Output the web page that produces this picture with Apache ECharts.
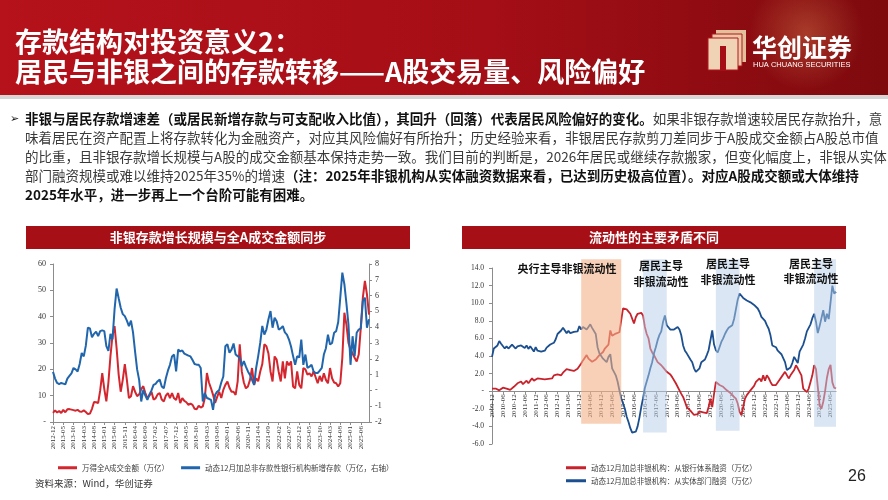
<!DOCTYPE html>
<html><head><meta charset="utf-8">
<script src="https://cdn.jsdelivr.net/npm/echarts@6/dist/echarts.min.js"></script>
<style>html,body{margin:0;padding:0;background:#fff}#c{width:888px;height:500px}</style>
</head><body><div id="c"></div>
<script>
// ---------- DATA ----------
function months(y, m, n) {
  const out = [];
  for (let i = 0; i < n; i++) {
    const t = y * 12 + (m - 1) + i;
    out.push(Math.floor(t / 12) + '-' + String(t % 12 + 1).padStart(2, '0'));
  }
  return out;
}
const leftCats = months(2012, 12, 155);   // 2012-12 .. 2025-10
const rightCats = months(2009, 12, 190);  // 2009-12 .. 2025-09

const leftRedName = '万得全A成交金额（万亿）';
const leftBlueName = '动态12月加总非存款性银行机构新增存款（万亿，右轴）';
const rightRedName = '动态12月加总非银机构：从银行体系融资（万亿）';
const rightBlueName = '动态12月加总非银机构：从实体部门融资（万亿）';

const leftRed = [
  3.5, 4.4, 3.6, 4.2, 3.4, 4.6, 3.7, 4.8, 4.9, 4.7,
  4.5, 4.3, 4.6, 4.0, 3.9, 4.4, 3.8, 3.0, 3.2, 5.0,
  7.6, 7.5, 7.2, 12.0, 18.6, 12.5, 7.8, 15.0, 25.0, 33.0,
  36.4, 28.0, 18.0, 11.5, 16.0, 22.0, 16.0, 9.1, 9.8, 13.6,
  11.5, 9.8, 10.5, 12.5, 13.6, 11.0, 9.1, 10.0, 11.5, 8.5,
  9.0, 10.5, 11.0, 8.5, 7.8, 10.0, 11.0, 9.1, 11.0, 9.0,
  8.4, 11.0, 7.2, 9.1, 8.0, 7.5, 6.5, 7.0, 6.5, 5.0,
  4.8, 6.2, 5.5, 5.9, 9.1, 18.6, 15.0, 12.8, 10.3, 7.2,
  9.5, 11.5, 9.1, 12.2, 14.1, 15.4, 13.0, 11.5, 11.5, 10.3,
  15.4, 29.5, 19.2, 15.0, 12.8, 13.5, 16.0, 20.5, 14.1, 16.6,
  15.5, 19.2, 22.0, 29.5, 28.8, 26.0, 19.2, 15.4, 24.9, 23.7,
  19.0, 15.4, 23.0, 16.6, 23.0, 21.5, 23.0, 13.5, 12.8, 19.2,
  14.1, 12.8, 20.5, 20.0, 18.0, 18.5, 17.3, 19.2, 17.0, 14.7,
  17.5, 15.4, 18.5, 16.0, 14.7, 20.5, 16.6, 15.0, 14.7, 13.5,
  14.7, 24.4, 41.5, 37.0, 30.0, 27.5, 26.0, 24.4, 23.0, 25.6,
  35.8, 47.2, 53.6, 48.5, 40.8
];
const leftBlue = [
  1.17, 0.75, 0.47, 0.40, 0.47, 0.43, 0.38, 0.75, 0.92, 1.08,
  1.42, 1.33, 1.20, 1.67, 2.37, 2.15, 2.83, 3.97, 3.92, 3.37,
  3.58, 3.72, 3.43, 3.75, 3.80, 3.75, 2.80, 2.50, 3.58, 3.22,
  5.13, 6.45, 5.83, 5.23, 4.83, 4.70, 4.42, 4.07, 4.42, 3.67,
  2.45, 1.33, 0.65, -0.70, 0.03, -0.33, -0.60, -0.25, 0.00, 0.35,
  0.42, 0.58, 0.68, 0.25, 0.13, 0.77, 1.25, 1.62, 2.15, 2.27,
  1.20, 2.58, 2.47, 2.53, 2.33, 2.27, 2.20, 2.15, 1.92, 1.67,
  1.63, 1.62, 1.42, -0.70, -0.17, -0.48, -0.53, -0.60, -1.23, -0.28,
  -0.08, 0.03, 0.50, 0.88, 2.80, 2.92, 2.38, 2.58, 2.97, 2.27,
  2.17, 2.07, 1.53, 1.85, 1.50, 1.20, 0.98, 0.67, 0.35, 1.42,
  2.17, 3.02, 4.08, 3.53, 3.85, 4.50, 5.02, 3.97, 4.60, 4.38,
  3.85, 3.92, 4.07, 3.67, 3.53, 3.22, 2.78, 2.17, 1.62, 2.17,
  2.08, 3.22, 1.62, 2.27, 1.42, 1.50, 1.62, 1.20, 1.10, 1.10,
  1.25, 1.42, 2.27, 2.67, 3.53, 2.90, 3.00, 3.65, 3.75, 4.33,
  5.87, 7.45, 6.72, 5.50, 4.17, 1.62, 3.43, 2.17, 3.65, 3.85,
  3.92, 5.65, 5.87, 3.97, 4.50
];
const rightRed = [
  0.3, 0.2, 0.3, 0.2, 0.1, 0.3, 0.4, 0.3, 0.3, 0.2,
  0.15, 0.3, 0.5, 0.7, 0.9, 0.7, 1.1, 0.8, 1.0, 1.2,
  0.9, 1.2, 1.45, 1.2, 1.4, 1.45, 1.35, 1.4, 1.35, 1.35,
  1.2, 1.4, 1.6, 1.45, 1.8, 1.7, 1.9, 2.0, 1.8, 2.1,
  2.25, 2.5, 2.3, 2.4, 2.55, 2.3, 2.4, 2.55, 2.7, 3.15,
  3.5, 3.8, 4.1, 3.7, 3.5, 3.35, 3.5, 3.6, 3.5, 4.1,
  4.3, 4.45, 4.85, 5.0, 5.3, 6.9, 6.3, 6.35, 6.55, 6.5,
  6.7, 8.05, 9.4, 9.5, 9.3, 9.2, 8.8, 8.6, 7.7, 8.4,
  8.8, 9.0, 8.9, 8.6, 7.3, 6.5, 6.0, 4.85, 4.4, 4.1,
  3.7, 3.3, 3.1, 2.95, 2.7, 2.5, 2.2, 2.0, 1.9, 1.6,
  1.25, 0.9, 0.7, 0.1, -0.3, -0.65, -1.2, -1.8, -1.95, -2.2,
  -2.35, -2.7, -2.5, -2.6, -2.3, -2.5, -2.4, -2.2, -2.5, -1.8,
  -0.85, -1.8, -0.3, 1.05, 0.9, 0.7, 0.5, 0.5, 0.3, 0.1,
  -0.1, -0.2, -0.45, -0.5, -0.85, -1.4, -2.35, -2.7, -1.8, -0.85,
  -0.45, -0.25, 0.1, 0.3, 0.6, 1.05, 0.9, 1.45, 1.1, 1.8,
  1.2, 1.8, 1.5, 1.05, 0.7, 0.6, 0.7, 0.9, 1.3, 1.6,
  1.8, 2.2, 2.0, 1.45, 1.8, 1.7, 2.4, 2.95, 2.6, 2.7,
  1.8, 0.3, 0.1, -0.1, 0.3, 1.05, 1.8, 2.95, 2.5, 0.5,
  -1.6, -2.0, -1.2, 0.0, 1.5, 2.5, 3.0, 1.0, 0.4, 0.3
];
const rightBlue = [
  3.9, 4.85, 4.7, 5.2, 5.7, 5.4, 5.2, 4.85, 5.1, 4.85,
  5.0, 5.3, 5.4, 4.85, 5.1, 5.0, 5.2, 5.3, 4.9, 5.2,
  4.8, 5.1, 5.0, 4.5, 5.0, 4.6, 4.45, 4.5, 4.45, 4.6,
  4.95, 5.1, 5.3, 5.2, 5.5, 5.9, 6.5, 6.5, 6.9, 7.2,
  7.0, 6.6, 6.85, 6.6, 6.7, 6.75, 6.75, 6.8, 7.4, 7.0,
  7.3, 7.2, 7.0, 7.3, 7.6, 7.2, 7.0, 6.5, 5.0, 4.3,
  4.0, 3.7, 3.7, 3.3, 3.9, 4.2, 2.6, 2.2, 1.8, 1.1,
  0.1, -0.8, -1.4, -2.0, -2.9, -3.5, -4.2, -4.7, -4.9, -4.6,
  -4.0, -3.0, -1.8, -0.8, 0.4, 1.1, 1.8, 2.6, 3.3, 4.3,
  5.0, 5.8, 6.4, 6.8, 7.9, 8.6, 7.5, 7.3, 7.0, 7.2,
  7.0, 7.1, 7.3, 7.0, 6.35, 5.2, 4.6, 4.3, 4.1, 3.6,
  3.3, 2.6, 2.2, 2.4, 2.6, 3.3, 3.5, 3.6, 4.1, 4.65,
  4.8, 6.9, 5.3, 4.65, 4.4, 5.0, 5.6, 6.0, 6.5, 6.9,
  7.2, 7.3, 7.5, 8.2, 9.3, 10.4, 11.1, 10.9, 10.6, 10.7,
  10.3, 10.4, 10.1, 10.0, 9.8, 9.6, 9.4, 9.0, 8.45, 8.25,
  8.0, 7.5, 7.1, 6.35, 5.2, 5.4, 5.0, 4.6, 4.4, 4.2,
  4.0, 3.3, 2.4, 2.3, 2.7, 3.2, 3.9, 4.0, 3.2, 4.5,
  4.9, 5.3, 6.0, 6.8, 7.2, 7.6, 8.3, 8.8, 7.9, 6.6,
  7.4, 8.3, 9.2, 7.9, 8.8, 8.2, 8.0, 12.0, 11.1, 11.3
];

// shaded regimes on the right chart
const bandStarts = ['2014-01', '2016-11', '2020-03', '2024-09'];
const bandEnds   = ['2015-11', '2017-12', '2021-04', '2025-09'];
const bandLows   = [-3.7, -4.7, -4.5, -4.05];
const bandTop = 15;

const leftTicksLeft = [0, 10, 20, 30, 40, 50, 60];
const leftTicksRight = [-2, -1, 0, 1, 2, 3, 4, 5, 6, 7, 8];
const rightTicks = [-6, -4, -2, 0, 2, 4, 6, 8, 10, 12, 14];

// ---------- STYLE / LAYOUT ----------
const RED_L = '#D3262E', BLUE_L = '#2166AC';
const RED_R = '#C8232C', BLUE_R = '#1B4F8F';
const serif = 'Liberation Serif';
const cjk = 'Noto Sans CJK SC';
const ORANGE_BAND = 'rgba(242,177,135,0.6)';
const BLUE_BAND = 'rgba(181,205,231,0.5)';

const bandColors = [ORANGE_BAND, BLUE_BAND, BLUE_BAND, BLUE_BAND];
const bandData = bandStarts.map((s, i) => [
  { xAxis: s, yAxis: bandLows[i], itemStyle: { color: bandColors[i], opacity: 1 } },
  { xAxis: bandEnds[i], yAxis: bandTop }
]);

// right chart: pixel geometry of the plot (top at 14, bottom at -6)
const RG = { left: 492, top: 268, width: 344, height: 176 };
const rUnit = RG.height / (rightTicks[rightTicks.length - 1] - rightTicks[0]);
const zeroOffset = -(0 - rightTicks[0]) * rUnit; // lift the x axis to value 0

const axisGray = '#8c8c8c';
const fs = 13.5;
const rich = {
  b: { fontFamily: cjk, fontSize: fs, fontWeight: 'bold', fill: '#111' },
  n: { fontFamily: cjk, fontSize: fs, fontWeight: 'normal', fill: '#3a3a3a' }
};
const paraLines = [
  '{b|非银与居民存款增速差（或居民新增存款与可支配收入比值），其回升（回落）代表居民风险偏好的变化。}{n|如果非银存款增速较居民存款抬升，意}',
  '{n|味着居民在资产配置上将存款转化为金融资产，对应其风险偏好有所抬升；历史经验来看，非银居民存款剪刀差同步于A股成交金额占A股总市值}',
  '{n|的比重，且非银存款增长规模与A股的成交金额基本保持走势一致。我们目前的判断是，2026年居民或继续存款搬家，但变化幅度上，非银从实体}',
  '{n|部门融资规模或难以维持2025年35%的增速}{b|（注：2025年非银机构从实体融资数据来看，已达到历史极高位置）。对应A股成交额或大体维持}',
  '{b|2025年水平，进一步再上一个台阶可能有困难。}'
];

function label(x, y, t) {
  return { type: 'text', x: x, y: y, z: 20, style: { text: t, fill: '#111', fontFamily: cjk, fontWeight: 'bold', fontSize: 11, align: 'center', verticalAlign: 'middle' } };
}

const graphics = [
  { type: 'rect', shape: { x: 0, y: 0, width: 888, height: 95 }, silent: true,
    style: { fill: new echarts.graphic.LinearGradient(0, 0, 1, 0, [
      { offset: 0, color: '#B5121B' }, { offset: 0.55, color: '#A50E16' }, { offset: 1, color: '#7E0A0E' }]) } },
  { type: 'rect', shape: { x: 560, y: 0, width: 328, height: 95 }, silent: true,
    style: { fill: new echarts.graphic.RadialGradient(0.75, 0.35, 0.6, [
      { offset: 0, color: 'rgba(230,150,90,0.35)' }, { offset: 1, color: 'rgba(230,150,90,0)' }]) } },
  { type: 'rect', shape: { x: 0, y: 95, width: 888, height: 4 }, style: { fill: '#D6D6D6' }, silent: true },
  { type: 'text', x: 15, y: 42, style: { text: '存款结构对投资意义2：', fill: '#fff', fontFamily: cjk, fontWeight: 'bold', fontSize: 27, verticalAlign: 'middle' } },
  { type: 'text', x: 15, y: 72, style: { text: '居民与非银之间的存款转移——A股交易量、风险偏好', fill: '#fff', fontFamily: cjk, fontWeight: 'bold', fontSize: 27, verticalAlign: 'middle' } },
  // logo icon
  { type: 'rect', shape: { x: 716, y: 30, width: 30, height: 32 }, style: { fill: '#E3C09C' } },
  { type: 'rect', shape: { x: 712, y: 34, width: 30, height: 32 }, style: { fill: '#E8C8A6', stroke: '#B8141C', lineWidth: 1 } },
  { type: 'rect', shape: { x: 708, y: 38, width: 30, height: 32 }, style: { fill: '#EFD3B4', stroke: '#B8141C', lineWidth: 1 } },
  { type: 'rect', shape: { x: 720, y: 46, width: 6, height: 24 }, style: { fill: '#A50E16' } },
  { type: 'text', x: 752, y: 47, style: { text: '华创证券', fill: '#fff', fontFamily: cjk, fontWeight: 'bold', fontSize: 25, verticalAlign: 'middle' } },
  { type: 'text', x: 753, y: 65, style: { text: 'HUA CHUANG SECURITIES', fill: '#fff', fontFamily: 'Liberation Sans', fontSize: 7.5, verticalAlign: 'middle' } },
  // bullet + paragraph
  { type: 'text', x: 10, y: 119, style: { text: '➢', fill: '#111', fontFamily: 'DejaVu Sans', fontSize: 11, verticalAlign: 'middle' } },
  ...paraLines.map((t, i) => ({ type: 'text', x: 25, y: 119 + i * 19, style: { text: t, rich: rich, verticalAlign: 'middle' } })),
  // chart banners
  { type: 'rect', shape: { x: 26, y: 226, width: 384, height: 23 }, style: { fill: '#A50F15' } },
  { type: 'text', x: 218, y: 237.5, style: { text: '非银存款增长规模与全A成交金额同步', fill: '#fff', fontFamily: cjk, fontWeight: 'bold', fontSize: 13, align: 'center', verticalAlign: 'middle' } },
  { type: 'rect', shape: { x: 462, y: 226, width: 384, height: 23 }, style: { fill: '#A50F15' } },
  { type: 'text', x: 654, y: 237.5, style: { text: '流动性的主要矛盾不同', fill: '#fff', fontFamily: cjk, fontWeight: 'bold', fontSize: 13, align: 'center', verticalAlign: 'middle' } },
  // regime annotations
  label(567, 269, '央行主导非银流动性'),
  label(661, 266, '居民主导'), label(661, 282, '非银流动性'),
  label(728, 264, '居民主导'), label(728, 280, '非银流动性'),
  label(811, 264, '居民主导'), label(811, 279, '非银流动性'),
  // footer
  { type: 'text', x: 35, y: 483, style: { text: '资料来源：Wind，华创证券', fill: '#333', fontFamily: cjk, fontSize: 9.5, verticalAlign: 'middle' } },
  { type: 'text', x: 857, y: 477, style: { text: '26', fill: '#222', fontFamily: 'Liberation Sans', fontSize: 16, align: 'center', verticalAlign: 'middle' } }
];

const axisLineStyle = { show: true, lineStyle: { color: axisGray, width: 1 } };
const tickStyle = { show: true, length: 3, lineStyle: { color: axisGray } };
const labelStyle = { fontFamily: serif, color: '#333' };
const legendText = { fontFamily: cjk, fontSize: 7.5, color: '#404040' };
const hiddenAxis = { show: false, axisLine: { show: false }, axisTick: { show: false }, axisLabel: { show: false }, splitLine: { show: false } };

const option = {
  animation: false,
  backgroundColor: '#fff',
  graphic: { elements: graphics },
  legend: [
    { data: [leftRedName, leftBlueName], left: 53, top: 459, itemWidth: 19, itemHeight: 3, itemGap: 12, icon: 'rect', textStyle: legendText },
    { data: [rightRedName], left: 561, top: 459, itemWidth: 20, itemHeight: 3, icon: 'rect', textStyle: legendText },
    { data: [rightBlueName], left: 561, top: 472, itemWidth: 20, itemHeight: 3, icon: 'rect', textStyle: legendText }
  ],
  grid: [
    { left: 53, top: 264, width: 316, height: 158 },
    RG,
    { left: RG.left, top: RG.top - (bandTop - rightTicks[rightTicks.length - 1]) * rUnit, width: RG.width,
      height: RG.height + (bandTop - rightTicks[rightTicks.length - 1]) * rUnit }
  ],
  xAxis: [
    { gridIndex: 0, type: 'category', data: leftCats, boundaryGap: false,
      axisLine: Object.assign({ onZero: false }, axisLineStyle), axisTick: Object.assign({ interval: 4 }, tickStyle),
      axisLabel: Object.assign({ interval: 4, rotate: 90, fontSize: 7, margin: 4 }, labelStyle) },
    { gridIndex: 1, type: 'category', data: rightCats, boundaryGap: false, position: 'bottom', offset: zeroOffset,
      axisLine: Object.assign({ onZero: false }, axisLineStyle), axisTick: Object.assign({ interval: 5 }, tickStyle),
      axisLabel: Object.assign({ interval: 5, rotate: 90, fontSize: 7, margin: 3 }, labelStyle) },
    Object.assign({ gridIndex: 2, type: 'category', data: rightCats, boundaryGap: false }, hiddenAxis)
  ],
  yAxis: [
    { gridIndex: 0, type: 'value', min: leftTicksLeft[0], max: leftTicksLeft[leftTicksLeft.length - 1], interval: 10,
      splitLine: { show: false }, axisLine: axisLineStyle, axisTick: tickStyle,
      axisLabel: Object.assign({ fontSize: 8, margin: 7, formatter: v => v === 0 ? '-' : String(v) }, labelStyle) },
    { gridIndex: 0, type: 'value', position: 'right', min: leftTicksRight[0], max: leftTicksRight[leftTicksRight.length - 1], interval: 1,
      splitLine: { show: false }, axisLine: axisLineStyle, axisTick: tickStyle,
      axisLabel: Object.assign({ fontSize: 8, margin: 6, formatter: v => v === 0 ? '-' : String(v) }, labelStyle) },
    { gridIndex: 1, type: 'value', min: rightTicks[0], max: rightTicks[rightTicks.length - 1], interval: 2,
      splitLine: { show: false }, axisLine: axisLineStyle, axisTick: tickStyle,
      axisLabel: Object.assign({ fontSize: 7.5, margin: 8, formatter: v => v === 0 ? '-' : v.toFixed(1) }, labelStyle) },
    Object.assign({ gridIndex: 2, type: 'value', min: rightTicks[0], max: bandTop }, hiddenAxis)
  ],
  series: [
    { name: leftRedName, type: 'line', xAxisIndex: 0, yAxisIndex: 0, data: leftRed, symbol: 'none',
      lineStyle: { color: RED_L, width: 2 }, itemStyle: { color: RED_L } },
    { name: leftBlueName, type: 'line', xAxisIndex: 0, yAxisIndex: 1, data: leftBlue, symbol: 'none',
      lineStyle: { color: BLUE_L, width: 2 }, itemStyle: { color: BLUE_L } },
    { name: rightRedName, type: 'line', xAxisIndex: 1, yAxisIndex: 2, data: rightRed, symbol: 'none',
      lineStyle: { color: RED_R, width: 1.8 }, itemStyle: { color: RED_R } },
    { name: rightBlueName, type: 'line', xAxisIndex: 1, yAxisIndex: 2, data: rightBlue, symbol: 'none',
      lineStyle: { color: BLUE_R, width: 1.8 }, itemStyle: { color: BLUE_R } },
    { name: 'bands', type: 'line', xAxisIndex: 2, yAxisIndex: 3, data: rightCats.map(() => null), symbol: 'none',
      z: 10, silent: true, clip: false, lineStyle: { width: 0 },
      markArea: { silent: true, z: 10, label: { show: false }, data: bandData } }
  ]
};
const chart = echarts.init(document.getElementById('c'), null, { renderer: 'canvas' });
chart.setOption(option);
</script></body></html>
